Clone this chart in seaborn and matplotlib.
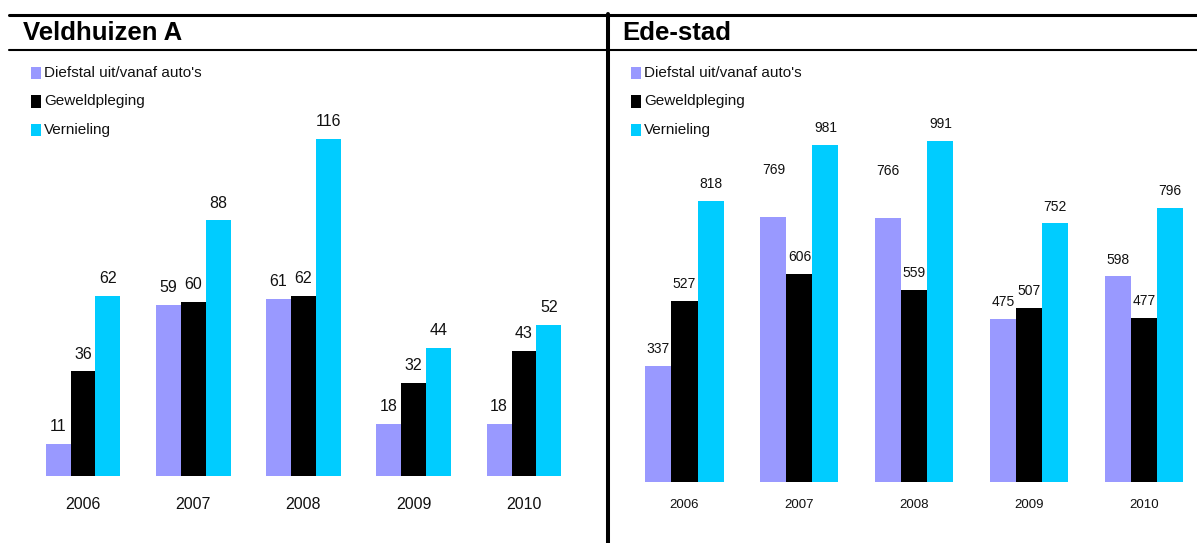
import pandas as pd
import matplotlib
matplotlib.use("Agg")
import matplotlib.pyplot as plt
import seaborn as sns
from matplotlib.lines import Line2D
from matplotlib.patches import Rectangle

# Data
years = ["2006", "2007", "2008", "2009", "2010"]
series = ["Diefstal uit/vanaf auto's", "Geweldpleging", "Vernieling"]
colors = ["#9999FF", "#000000", "#00CCFF"]

veld_diefstal = [11, 59, 61, 18, 18]
veld_geweld = [36, 60, 62, 32, 43]
veld_vernieling = [62, 88, 116, 44, 52]

ede_diefstal = [337, 769, 766, 475, 598]
ede_geweld = [527, 606, 559, 507, 477]
ede_vernieling = [818, 981, 991, 752, 796]


def make_frame(a, b, c):
    rows = []
    for name, vals in zip(series, [a, b, c]):
        for y, v in zip(years, vals):
            rows.append({"Jaar": y, "Delict": name, "Aantal": v})
    return pd.DataFrame(rows)


veld = make_frame(veld_diefstal, veld_geweld, veld_vernieling)
ede = make_frame(ede_diefstal, ede_geweld, ede_vernieling)

sns.set_style("white")
plt.rcParams['font.family'] = ['Liberation Sans Narrow', 'Liberation Sans', 'DejaVu Sans']
plt.rcParams['text.color'] = "#111111"

W, H = 1197, 543
fig = plt.figure(figsize=(W / 100, H / 100), dpi=100)


def fx(px):
    return px / W


def fy(py):
    return 1 - py / H


def draw_panel(df, left, right, base, px_unit, x0, step, lab_size, year_size, year_pad, raised=()):
    top = 60
    ax = fig.add_axes([fx(left), fy(base), fx(right - left), (base - top) / H])
    sns.barplot(data=df, x="Jaar", y="Aantal", hue="Delict", order=years,
                hue_order=series, palette=colors, width=0.68, saturation=1,
                linewidth=0, legend=False, ax=ax)
    ax.set_xlim((left - x0) / step, (right - x0) / step)
    ax.set_ylim(0, (base - top) / px_unit)
    for i, cont in enumerate(ax.containers):
        for j, bar in enumerate(cont):
            v = int(round(bar.get_height()))
            pad = 7 + (22 if (i, j) in raised else 0)
            ax.annotate(str(v), (bar.get_x() + bar.get_width() / 2, bar.get_height()),
                        xytext=(0, pad), textcoords="offset points",
                        ha="center", va="bottom", fontsize=lab_size, color="#111111")
    for s in ax.spines.values():
        s.set_visible(False)
    ax.set_yticks([])
    ax.set_xlabel("")
    ax.set_ylabel("")
    ax.tick_params(axis="x", length=0, pad=year_pad, labelsize=year_size, colors="#111111")
    return ax


draw_panel(veld, 10, 600, 476, 2.905, 83, 110.25, 11.5, 11.5, 15)
draw_panel(ede, 612, 1197, 482, 0.344, 684.5, 114.9, 10, 9.5, 12, raised={(0, 1), (0, 2)})

# titles and frame lines
fig.text(fx(23), fy(33), "Veldhuizen A", fontsize=18.5, fontweight="bold",
         family=['Liberation Sans', 'DejaVu Sans'], va="center", ha="left", color="black")
fig.text(fx(622), fy(33), "Ede-stad", fontsize=18.5, fontweight="bold",
         family=['Liberation Sans', 'DejaVu Sans'], va="center", ha="left", color="black")

fig.add_artist(Line2D([fx(9), 1], [fy(15), fy(15)], color="black", lw=2.2,
                      transform=fig.transFigure))
fig.add_artist(Line2D([fx(9), 1], [fy(49.5), fy(49.5)], color="black", lw=1.5,
                      transform=fig.transFigure))
fig.add_artist(Line2D([fx(608), fx(608)], [fy(14), 0], color="black", lw=2.9,
                      transform=fig.transFigure))

# legends
for lx in [31, 631]:
    for k, (name, col) in enumerate(zip(series, colors)):
        cy = 73 + k * 28.5
        fig.add_artist(Rectangle((fx(lx), fy(cy + 6)), fx(10), 12 / H,
                                 facecolor=col, edgecolor="none",
                                 transform=fig.transFigure))
        fig.text(fx(lx + 13), fy(cy), name, fontsize=11, va="center", ha="left",
                 color="#111111")

fig.savefig("out.png", dpi=100)
